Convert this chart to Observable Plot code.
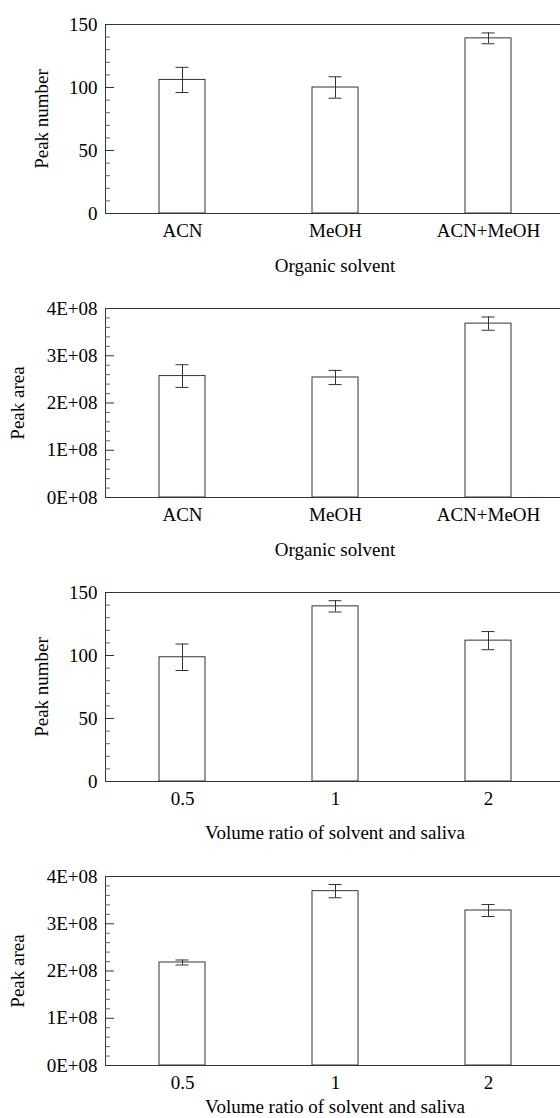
<!DOCTYPE html>
<html><head><meta charset="utf-8">
<script src="https://cdn.jsdelivr.net/npm/d3@7"></script>
<script src="https://cdn.jsdelivr.net/npm/@observablehq/plot@0.6"></script>
<style>
html,body{margin:0;padding:0;background:#fff;}
#charts{width:560px;overflow:hidden;}
.panel{width:560px;overflow:hidden;line-height:0;}
.panel svg{display:block;max-width:none !important;width:570px !important;}
</style></head><body><div id="charts"></div>
<script>
// ---- data ----
const solvents = ["ACN", "MeOH", "ACN+MeOH"];
const solventPeakNumber = [106, 100, 139];
const solventPeakNumberErr = [10, 8.5, 4.3];
const solventPeakArea = [2.57e8, 2.54e8, 3.68e8];
const solventPeakAreaErr = [0.24e8, 0.15e8, 0.14e8];

const ratios = ["0.5", "1", "2"];
const ratioPeakNumber = [98.6, 139, 111.8];
const ratioPeakNumberErr = [10.5, 4.5, 7.2];
const ratioPeakArea = [2.18e8, 3.69e8, 3.28e8];
const ratioPeakAreaErr = [0.053e8, 0.14e8, 0.127e8];

const numberTicks = [0, 50, 100, 150];
const numberTickLabels = ["0", "50", "100", "150"];
const numberMinorTicks = [10, 20, 30, 40, 60, 70, 80, 90, 110, 120, 130, 140];
const areaTicks = [0, 1e8, 2e8, 3e8, 4e8];
const areaTickLabels = ["0E+08", "1E+08", "2E+08", "3E+08", "4E+08"];
const areaMinorTicks = [0.2e8, 0.4e8, 0.6e8, 0.8e8, 1.2e8, 1.4e8, 1.6e8, 1.8e8, 2.2e8, 2.4e8, 2.6e8, 2.8e8, 3.2e8, 3.4e8, 3.6e8, 3.8e8];

const FONT = "'Liberation Serif','Times New Roman',Times,serif";
const FS = 19;
const INK = "#333";

function panel({cats, vals, errs, yMax, majors, labels, minors, yLabel, yLabelDx, xLabel, height, xTitleDy}) {
  const data = cats.map((c, i) => ({cat: c, v: vals[i], e: errs[i]}));
  const fmt = d => labels[majors.indexOf(d)];
  return Plot.plot({
    width: 570,
    height,
    marginLeft: 105,
    marginRight: 6,
    marginTop: 24,
    marginBottom: height - 24 - 189,
    style: {fontFamily: FONT, fontSize: FS + "px", color: "#000", background: "#fff", overflow: "visible"},
    x: {domain: cats, paddingInner: 0.7, paddingOuter: 0.35, axis: null},
    y: {domain: [0, yMax], axis: null},
    marks: [
      Plot.barY(data, {x: "cat", y: "v", fill: "white", stroke: INK, strokeWidth: 1}),
      Plot.ruleX(data, {x: "cat", y1: d => d.v - d.e, y2: d => d.v + d.e, stroke: INK}),
      Plot.tickY(data, {x: "cat", y: d => d.v + d.e, stroke: INK, insetLeft: 16.5, insetRight: 16.5}),
      Plot.tickY(data, {x: "cat", y: d => d.v - d.e, stroke: INK, insetLeft: 16.5, insetRight: 16.5}),
      Plot.frame({stroke: INK}),
      Plot.axisY({ticks: minors, tickSize: -5, tickFormat: () => "", stroke: "#666", label: null}),
      Plot.axisY({ticks: majors, tickSize: -9, tickFormat: () => "", stroke: INK, label: null}),
      Plot.axisY({ticks: majors, tickSize: 0, tickPadding: 8, tickFormat: fmt, fill: "#000", fontSize: FS, fontFamily: FONT, label: null}),
      Plot.axisX({tickSize: 0, tickPadding: 10, fill: "#000", fontSize: FS, fontFamily: FONT, label: null}),
      Plot.text([yLabel], {text: d => d, frameAnchor: "left", textAnchor: "middle", lineAnchor: "middle", rotate: -90, dx: yLabelDx, fill: "#000", fontSize: FS, fontFamily: FONT}),
      Plot.text([xLabel], {text: d => d, frameAnchor: "bottom", textAnchor: "middle", dy: xTitleDy, lineAnchor: "middle", fill: "#000", fontSize: FS, fontFamily: FONT})
    ]
  });
}

const specs = [
  {cats: solvents, vals: solventPeakNumber, errs: solventPeakNumberErr, yMax: 150, majors: numberTicks, labels: numberTickLabels, minors: numberMinorTicks, yLabel: "Peak number", yLabelDx: -64, xLabel: "Organic solvent", height: 284, xTitleDy: 52},
  {cats: solvents, vals: solventPeakArea, errs: solventPeakAreaErr, yMax: 4e8, majors: areaTicks, labels: areaTickLabels, minors: areaMinorTicks, yLabel: "Peak area", yLabelDx: -88, xLabel: "Organic solvent", height: 284, xTitleDy: 52},
  {cats: ratios, vals: ratioPeakNumber, errs: ratioPeakNumberErr, yMax: 150, majors: numberTicks, labels: numberTickLabels, minors: numberMinorTicks, yLabel: "Peak number", yLabelDx: -64, xLabel: "Volume ratio of solvent and saliva", height: 284, xTitleDy: 51},
  {cats: ratios, vals: ratioPeakArea, errs: ratioPeakAreaErr, yMax: 4e8, majors: areaTicks, labels: areaTickLabels, minors: areaMinorTicks, yLabel: "Peak area", yLabelDx: -88, xLabel: "Volume ratio of solvent and saliva", height: 266, xTitleDy: 41}
];

const root = document.getElementById("charts");
for (const s of specs) {
  const div = document.createElement("div");
  div.className = "panel";
  div.appendChild(panel(s));
  root.appendChild(div);
}
</script></body></html>
